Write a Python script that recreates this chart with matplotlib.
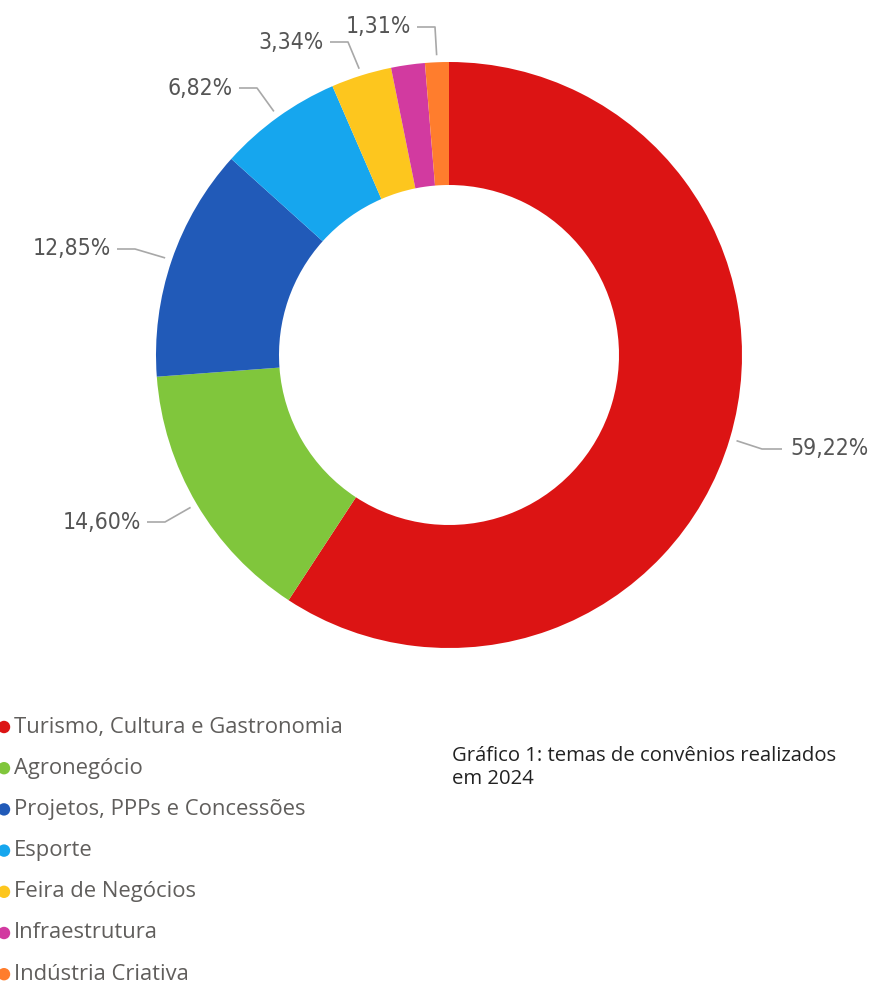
import matplotlib
matplotlib.use('Agg')
import matplotlib.pyplot as plt
import numpy as np

W, H = 872, 984  # figure size in pixels

categories = ['Turismo, Cultura e Gastronomia', 'Agronegócio',
              'Projetos, PPPs e Concessões', 'Esporte', 'Feira de Negócios',
              'Infraestrutura', 'Indústria Criativa']
shares = [59.22, 14.60, 12.85, 6.82, 3.34, 1.86, 1.31]
show_label = [True, True, True, True, True, False, True]
colors = ['#dc1414', '#80c63c', '#215ab8', '#16a6ee', '#fdc61e',
          '#d23aa0', '#ff7d2d']
caption = 'Gráfico 1: temas de convênios realizados\nem 2024'

# layout (image pixel coords, y downward)
cx, cy, r_out, r_in = 449, 355, 293, 170
label_y = [449, 522, 249, 88, 42, None, 27]
elbow_x = [762, 165, 135, 257, 348, None, 435]
grey = '#605e5c'


def fy(y):
    return H - y


fig = plt.figure(figsize=(W / 100, H / 100), dpi=100)
ax = fig.add_axes([0, 0, 1, 1])
ax.axis('off')

wedges, _ = ax.pie(shares, colors=colors, startangle=90, counterclock=False,
                   radius=r_out, center=(cx, fy(cy)),
                   wedgeprops=dict(width=r_out - r_in, linewidth=0))
ax.set_xlim(0, W)
ax.set_ylim(0, H)
ax.set_aspect('equal')

# data labels with leader lines
for w, val, show, ly, ex in zip(wedges, shares, show_label, label_y, elbow_x):
    if not show:
        continue
    ang = np.deg2rad((w.theta1 + w.theta2) / 2)
    sx = cx + 300 * np.cos(ang)
    sy = fy(cy) + 300 * np.sin(ang)
    right = np.cos(ang) > 0
    hx = ex + 20 if right else ex - 18
    ax.plot([sx, ex, hx], [sy, fy(ly), fy(ly)], color='#a8a8a8', lw=1.2,
            solid_capstyle='butt')
    txt = f'{val:.2f}%'.replace('.', ',')
    tx = hx + 8 if right else hx - 6
    ax.text(tx, fy(ly), txt, ha='left' if right else 'right', va='center',
            fontsize=16.5, color='#555555', family='DejaVu Sans',
            fontstretch='condensed', fontweight='medium')

# legend
leg_y0, leg_dy = 727, 41.2
for i, (cat, col) in enumerate(zip(categories, colors)):
    y = fy(leg_y0 + i * leg_dy)
    ax.scatter([4], [y], s=80, color=col, edgecolors='none', clip_on=False)
    ax.text(14, y, cat, ha='left', va='center', fontsize=15.8, color=grey,
            family='Open Sans')

ax.text(452, fy(746), caption, ha='left', va='top', fontsize=14.6,
        color='#222222', family='Open Sans', linespacing=1.2)

fig.savefig('out.png', dpi=100)
